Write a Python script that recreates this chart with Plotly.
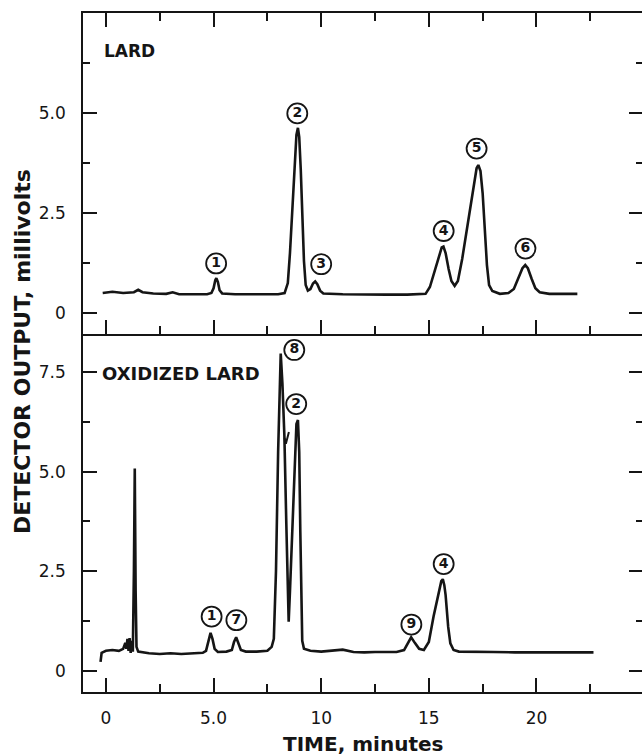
import plotly.graph_objects as go

# ---------------- data ----------------
lard_time = [-0.15, 0.3, 0.8, 1.3, 1.5, 1.7, 2.2, 2.8, 3.1, 3.4, 4.0, 4.7, 4.9, 5.0, 5.08, 5.13, 5.2, 5.28,
             5.4, 6.0, 7.0, 8.0, 8.3, 8.45, 8.55, 8.65, 8.75, 8.85, 8.92, 8.98, 9.05, 9.12, 9.2, 9.28,
             9.38, 9.5, 9.62, 9.72, 9.82, 9.95, 10.1, 11.0, 12.0, 13.0, 14.0, 14.85, 15.05, 15.25, 15.45,
             15.6, 15.68, 15.78, 15.92, 16.05, 16.2, 16.35, 16.55, 16.75, 16.95, 17.1, 17.22, 17.3, 17.4,
             17.5, 17.6, 17.7, 17.8, 17.95, 18.3, 18.7, 18.95, 19.15, 19.35, 19.48, 19.6, 19.78,
             19.95, 20.15, 20.6, 21.2, 21.9]
lard_mv = [0.50, 0.53, 0.50, 0.52, 0.58, 0.52, 0.49, 0.48, 0.52, 0.47, 0.47, 0.47, 0.50, 0.62, 0.82, 0.87,
           0.78, 0.57, 0.49, 0.47, 0.47, 0.47, 0.50, 0.75, 1.5, 2.6, 3.7, 4.45, 4.63, 4.4, 3.6, 2.4, 1.3,
           0.7, 0.56, 0.6, 0.74, 0.79, 0.72, 0.56, 0.49, 0.47, 0.46, 0.46, 0.46, 0.48, 0.65, 1.0, 1.4,
           1.64, 1.66, 1.5, 1.1, 0.8, 0.68, 0.8, 1.35, 2.05, 2.75, 3.3, 3.62, 3.7, 3.55, 3.0, 2.1, 1.2,
           0.7, 0.55, 0.48, 0.5, 0.6, 0.85, 1.12, 1.2, 1.12, 0.85, 0.62, 0.52, 0.48, 0.48, 0.48]

ox_time = [-0.25, -0.2, 0.0, 0.3, 0.6, 0.8, 0.9, 0.95, 1.0, 1.05, 1.1, 1.15, 1.2, 1.25, 1.3, 1.34, 1.38,
           1.42, 1.5, 2.0, 2.5, 3.0, 3.5, 4.0, 4.5, 4.65, 4.75, 4.86, 4.95, 5.05, 5.2, 5.6, 5.85, 5.95,
           6.05, 6.15, 6.27, 6.5, 7.0, 7.5, 7.7, 7.8, 7.9, 8.0, 8.08, 8.12, 8.2, 8.29, 8.38, 8.45, 8.49,
           8.55, 8.65, 8.75, 8.85, 8.92, 8.98, 9.03, 9.08, 9.12, 9.2, 9.5, 10.0, 10.5, 11.0, 11.5, 12.0,
           12.5, 13.0, 13.5, 13.85, 14.0, 14.18, 14.35, 14.55, 14.77, 15.0, 15.22, 15.45, 15.58, 15.65,
           15.72, 15.78, 15.9, 16.0, 16.15, 16.4, 17.0, 18.0, 19.0, 20.0, 21.0, 22.0, 22.65]
ox_mv = [0.22, 0.45, 0.5, 0.52, 0.5, 0.55, 0.7, 0.55, 0.8, 0.5, 0.82, 0.45, 0.75, 0.48, 2.5, 5.08, 2.0,
         0.6, 0.48, 0.44, 0.42, 0.44, 0.42, 0.44, 0.45, 0.5, 0.75, 0.95, 0.8, 0.55, 0.47, 0.48, 0.52,
         0.72, 0.84, 0.7, 0.52, 0.48, 0.48, 0.5, 0.6, 0.8, 2.5, 5.5, 7.6, 7.97, 7.2, 5.9, 3.7, 2.0,
         1.23, 2.0, 3.5, 5.0, 6.2, 6.3, 5.5, 3.5, 1.5, 0.75, 0.55, 0.5, 0.48, 0.5, 0.53, 0.47, 0.46,
         0.47, 0.47, 0.47, 0.52, 0.68, 0.84, 0.7, 0.55, 0.52, 0.72, 1.36, 1.94, 2.25, 2.3, 2.15, 1.9,
         1.1, 0.69, 0.52, 0.48, 0.47, 0.47, 0.46, 0.46, 0.46, 0.46, 0.46]

# small pen hook beside the falling edge of peak 8
pen_mark_t = [8.30, 8.36, 8.50]
pen_mark_mv = [5.85, 5.70, 6.00]

lard_peak_ids = ["1", "2", "3", "4", "5", "6"]
lard_peak_t = [5.12, 8.89, 10.0, 15.69, 17.22, 19.49]
lard_peak_mv = [1.24, 4.99, 1.22, 2.05, 4.11, 1.61]

ox_peak_ids = ["1", "7", "8", "2", "9", "4"]
ox_peak_t = [4.91, 6.06, 8.75, 8.84, 14.19, 15.69]
ox_peak_mv = [1.36, 1.27, 8.06, 6.70, 1.16, 2.68]

x_tick_vals = [0, 5, 10, 15, 20]
x_tick_text = ["0", "5.0", "10", "15", "20"]
x_minor_vals = [2.5, 7.5, 12.5, 17.5, 22.5]
lard_y_vals = [0, 2.5, 5.0]
lard_y_text = ["0", "2.5", "5.0"]
ox_y_vals = [0, 2.5, 5.0, 7.5]
ox_y_text = ["0", "2.5", "5.0", "7.5"]
y_minor_vals = [1.25, 3.75, 6.25]

# ---------------- figure ----------------
INK = "#151515"
FONT = "DejaVu Sans"

fig = go.Figure()

fig.add_trace(go.Scatter(x=lard_time, y=lard_mv, mode="lines", xaxis="x2", yaxis="y2",
                         line=dict(color=INK, width=2.6), hoverinfo="skip", showlegend=False))
fig.add_trace(go.Scatter(x=ox_time, y=ox_mv, mode="lines", xaxis="x", yaxis="y",
                         line=dict(color=INK, width=2.6), hoverinfo="skip", showlegend=False))
fig.add_trace(go.Scatter(x=pen_mark_t, y=pen_mark_mv, mode="lines", xaxis="x", yaxis="y",
                         line=dict(color=INK, width=2), hoverinfo="skip", showlegend=False))

circle = dict(symbol="circle-open", size=20, color=INK, line=dict(color=INK, width=1.8))
label_font = dict(family=FONT, size=14, color=INK, weight="bold")
fig.add_trace(go.Scatter(x=lard_peak_t, y=lard_peak_mv, mode="markers+text", xaxis="x2", yaxis="y2",
                         text=lard_peak_ids, textposition="middle center", textfont=label_font,
                         marker=circle, cliponaxis=False, hoverinfo="skip", showlegend=False))
fig.add_trace(go.Scatter(x=ox_peak_t, y=ox_peak_mv, mode="markers+text", xaxis="x", yaxis="y",
                         text=ox_peak_ids, textposition="middle center", textfont=label_font,
                         marker=circle, cliponaxis=False, hoverinfo="skip", showlegend=False))

# plot area runs a few pixels past the 642 px window so the right frame edge is cut off,
# as in the scanned original (0.0462 min per pixel keeps 21.6 px per minute)
x_common = dict(range=[-1.065, 24.95], showgrid=False, zeroline=False,
                showline=True, linecolor=INK, linewidth=1.5,
                ticks="inside", ticklen=14, tickwidth=1.5, tickcolor=INK,
                tickvals=x_tick_vals,
                minor=dict(tickmode="array", tickvals=x_minor_vals, ticks="inside",
                           ticklen=8, tickwidth=1.5, tickcolor=INK, showgrid=False))
y_common = dict(showgrid=False, zeroline=False, showline=True, linecolor=INK, linewidth=1.5,
                ticks="inside", ticklen=14, tickwidth=1.5, tickcolor=INK, mirror="allticks",
                tickfont=dict(family=FONT, size=17, color=INK), ticklabelstandoff=12,
                minor=dict(tickmode="array", tickvals=y_minor_vals, ticks="inside",
                           ticklen=7, tickwidth=1.5, tickcolor=INK, showgrid=False))

fig.update_layout(
    width=645, height=755,
    margin=dict(l=83, r=0, t=13, b=63),
    paper_bgcolor="white", plot_bgcolor="white",
    font=dict(family=FONT, color=INK),
    xaxis=dict(**x_common, domain=[0, 1], anchor="y", mirror=False,
               ticktext=x_tick_text, tickfont=dict(family=FONT, size=17, color=INK),
               ticklabelstandoff=10),
    xaxis2=dict(**x_common, domain=[0, 1], anchor="y2", mirror="allticks", showticklabels=False),
    yaxis=dict(**y_common, domain=[0, 0.5272], anchor="x", range=[-0.535, 8.46],
               tickvals=ox_y_vals, ticktext=ox_y_text),
    yaxis2=dict(**y_common, domain=[0.5272, 1], anchor="x2", range=[-0.525, 7.5],
                tickvals=lard_y_vals, ticktext=lard_y_text),
    annotations=[
        dict(text="LARD", xref="x2", yref="y2", x=-0.19, y=6.55, xanchor="left", yanchor="middle",
             showarrow=False, font=dict(family=FONT, size=17, color=INK, weight="bold")),
        dict(text="OXIDIZED LARD", xref="x", yref="y", x=-0.28, y=7.48, xanchor="left",
             yanchor="middle", showarrow=False,
             font=dict(family=FONT, size=18, color=INK, weight="bold")),
        dict(text="TIME, minutes", xref="paper", yref="paper", x=0.4995, y=-0.0766,
             xanchor="center", yanchor="middle", showarrow=False,
             font=dict(family=FONT, size=20, color=INK, weight="bold")),
        dict(text="DETECTOR OUTPUT, millivolts", xref="paper", yref="paper", x=-0.109, y=0.502,
             xanchor="center", yanchor="middle", textangle=-90, showarrow=False,
             font=dict(family=FONT, size=22, color=INK, weight="bold")),
    ],
)

# remove the page's default body margin so the figure fills the window exactly
page_fix = ("document.body.style.margin='0';"
            "document.body.style.overflow='hidden';"
            "document.documentElement.style.overflow='hidden';")

fig.write_html("out.html", post_script=page_fix, config={"displayModeBar": False})
